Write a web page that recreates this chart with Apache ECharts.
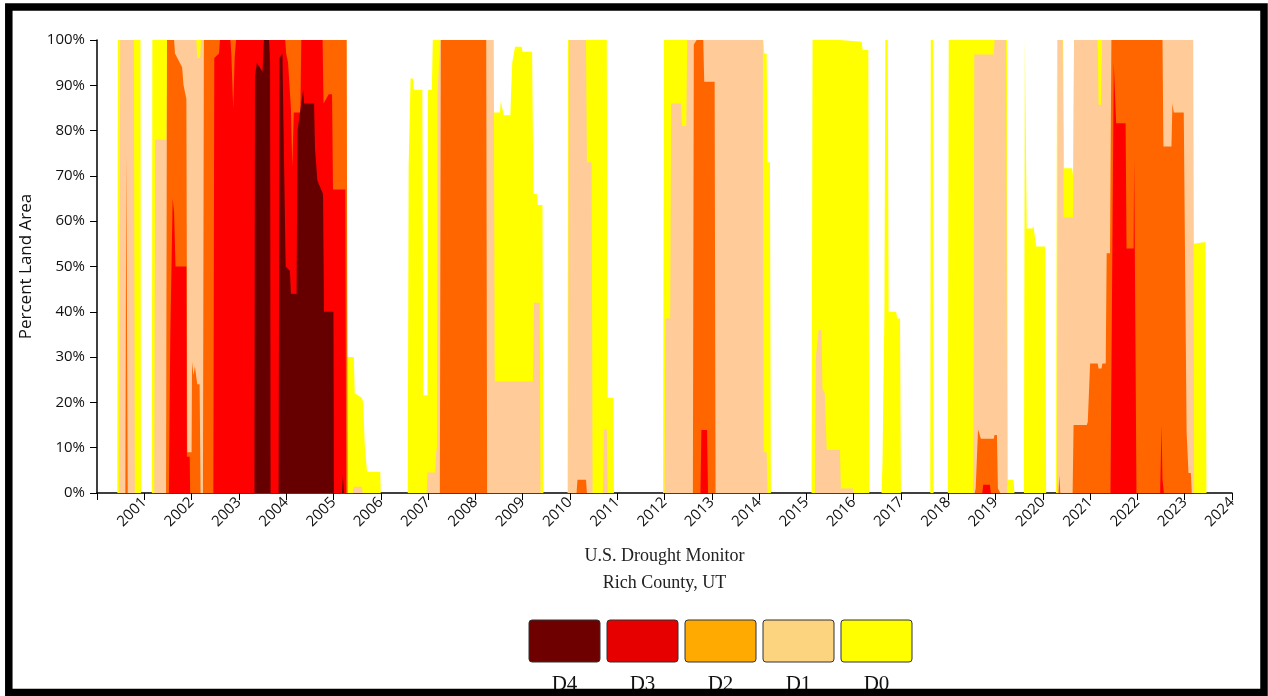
<!DOCTYPE html>
<html>
<head>
<meta charset="utf-8">
<script src="https://cdn.jsdelivr.net/npm/echarts@6/dist/echarts.min.js"></script>
<style>
html,body{margin:0;padding:0;background:#fff;}
#chart{width:1268px;height:696px;}
</style>
</head>
<body>
<div id="chart"></div>
<script>
// Time in decimal years, value = percent of land area (cumulative USDM categories)
const yearTicks = [2000, 2024];
const seriesNames = ['D0', 'D1', 'D2', 'D3', 'D4'];
const areaColors = ['#FFFF00', '#FFCC99', '#FF6600', '#FF0000', '#660000'];
const legendNames = ['D4', 'D3', 'D2', 'D1', 'D0'];
const legendColors = ['#6E0000', '#E60000', '#FFAA00', '#FCD37F', '#FFFF00'];
const titleLines = ['U.S. Drought Monitor', 'Rich County, UT'];

const d0 = [
[2000.43,0],[2000.44,100],[2000.92,100],[2000.93,0],
[2001.16,0],[2001.17,100],[2005.27,100],[2005.29,30],[2005.43,30],[2005.45,22],[2005.6,21],[2005.63,20],[2005.66,11],[2005.71,4.7],[2005.99,4.7],[2006.0,0],
[2006.57,0],[2006.59,72],[2006.63,91.5],[2006.68,91.5],[2006.7,89],[2006.88,89],[2006.9,21.6],[2006.99,21.6],[2007.0,89],[2007.08,89],[2007.1,100],[2008.36,100],[2008.38,84],[2008.52,84],[2008.54,86.6],[2008.58,86.6],[2008.6,83.4],[2008.74,83.4],[2008.78,95],[2008.84,98.5],[2008.98,98.5],[2009.0,97.4],[2009.2,97.4],[2009.23,66],[2009.3,66],[2009.32,63.6],[2009.42,63.6],[2009.44,0],
[2009.95,0],[2009.96,100],[2010.78,100],[2010.8,21],[2010.92,21],[2010.93,0],
[2011.97,0],[2011.99,100],[2014.09,100],[2014.11,97],[2014.16,97],[2014.18,73],[2014.23,73],[2014.25,0],
[2015.11,0],[2015.13,100],[2015.71,100],[2015.73,99.6],[2016.17,99.6],[2016.19,97.8],[2016.31,97.8],[2016.33,0],
[2016.59,0],[2016.61,7],[2016.65,40],[2016.67,100],[2016.72,100],[2016.74,40],[2016.9,40],[2016.92,38.5],[2016.98,38.5],[2017.0,0],
[2017.62,0],[2017.63,100],[2017.68,100],[2017.69,0],
[2017.99,0],[2018.01,100],[2019.24,100],[2019.26,2.9],[2019.38,2.9],[2019.4,0],
[2019.6,0],[2019.62,100],[2019.65,100],[2019.66,58.4],[2019.78,58.4],[2019.8,59],[2019.84,59],[2019.86,54.4],[2020.05,54.4],[2020.07,0],
[2020.28,0],[2020.3,100],[2020.43,100],[2020.45,71.7],[2020.62,71.7],[2020.64,70],[2020.66,100],[2023.17,100],[2023.19,55],[2023.44,55.4],[2023.46,0]
];

const d1 = [
[2000.47,0],[2000.49,100],[2000.78,100],[2000.8,0],
[2001.21,0],[2001.23,78],[2001.47,78],[2001.49,100],[2002.1,100],[2002.12,96],[2002.18,96],[2002.2,100],[2005.27,100],[2005.29,0],
[2005.41,0],[2005.43,1.4],[2005.6,1.4],[2005.62,0],
[2006.97,0],[2006.99,4.5],[2007.15,4.5],[2007.17,9],[2007.19,10],[2007.2,88],[2007.24,88],[2007.26,100],[2008.39,100],[2008.41,24.6],[2009.22,24.6],[2009.24,42],[2009.36,42],[2009.38,0],
[2009.96,0],[2009.98,100],[2010.34,100],[2010.36,73],[2010.46,73],[2010.48,0],[2010.7,0],[2010.72,14],[2010.78,14],[2010.8,0],
[2012.0,0],[2012.02,38.5],[2012.12,38.5],[2012.14,86],[2012.35,86],[2012.37,81],[2012.46,81],[2012.48,100],[2014.08,100],[2014.1,9],[2014.16,9],[2014.18,0],
[2015.18,0],[2015.2,30],[2015.26,36],[2015.32,36],[2015.34,23],[2015.39,22],[2015.43,9.5],[2015.71,9.5],[2015.73,1],[2015.98,1],[2016.0,0],
[2018.53,0],[2018.55,96.8],[2018.96,96.8],[2018.98,100],[2019.22,100],[2019.25,0],
[2020.3,0],[2020.32,100],[2020.42,100],[2020.44,60.8],[2020.64,60.8],[2020.66,100],[2021.16,100],[2021.18,85.7],[2021.23,85.7],[2021.25,100],[2023.18,100],[2023.2,0]
];

const d2 = [
[2000.6,0],[2000.62,75],[2000.65,0],
[2001.46,0],[2001.48,100],[2001.63,100],[2001.65,97],[2001.8,94],[2001.83,90],[2001.89,87],[2001.91,9],[2002.0,9],[2002.01,29],[2002.04,26],[2002.07,28],[2002.12,24],[2002.17,24],[2002.19,0],[2002.24,0],[2002.26,100],[2005.28,100],[2005.3,0],
[2007.25,0],[2007.27,100],[2008.23,100],[2008.25,0],
[2010.14,0],[2010.16,2.9],[2010.34,2.9],[2010.36,0],
[2012.6,0],[2012.62,99],[2012.68,100],[2012.82,100],[2012.84,90.8],[2013.06,90.8],[2013.08,0],
[2018.56,0],[2018.58,1],[2018.61,1],[2018.63,14],[2018.67,14],[2018.69,12],[2018.96,12],[2018.98,12.8],[2019.03,12.8],[2019.05,1],[2019.08,1],[2019.1,0],
[2020.33,0],[2020.35,4],[2020.37,0],
[2020.63,0],[2020.65,15],[2020.93,15],[2020.95,15.7],[2020.99,15.7],[2021.0,28.6],[2021.16,28.6],[2021.18,27.5],[2021.24,27.5],[2021.26,28.6],[2021.33,28.6],[2021.35,52.9],[2021.42,52.9],[2021.45,100],[2022.53,100],[2022.55,76.5],[2022.72,76.5],[2022.74,86],[2022.77,84],[2022.98,84],[2023.0,60],[2023.03,60],[2023.04,13.5],[2023.07,13.5],[2023.08,4.4],[2023.13,4.4],[2023.15,0]
];

const d3 = [
[2001.52,0],[2001.55,35],[2001.6,65],[2001.63,62],[2001.66,50],[2001.89,50],[2001.9,8],[2001.96,8],[2001.97,0],
[2002.46,0],[2002.48,96],[2002.58,97],[2002.6,100],[2002.82,100],[2002.84,97],[2002.88,85],[2002.91,96],[2002.94,100],[2003.98,100],[2004.0,97],[2004.04,95],[2004.1,85],[2004.13,72],[2004.16,84],[2004.3,84],[2004.32,100],[2004.77,100],[2004.79,86],[2004.9,88],[2004.97,88],[2004.99,67],[2005.25,67],[2005.27,0],
[2012.76,0],[2012.78,13.9],[2012.9,13.9],[2012.92,0],
[2018.72,0],[2018.74,1.8],[2018.88,1.8],[2018.9,0],
[2021.43,0],[2021.46,40],[2021.5,95],[2021.53,95],[2021.55,81.6],[2021.75,81.6],[2021.77,54],[2021.92,54],[2021.93,74],[2021.945,54],[2021.96,54],[2021.98,0],
[2022.48,0],[2022.51,15],[2022.53,3],[2022.56,0]
];

const d4 = [
[2003.33,0],[2003.34,92],[2003.38,95],[2003.5,93],[2003.53,100],[2003.64,100],[2003.66,95],[2003.67,0],
[2003.84,0],[2003.86,96],[2003.92,97],[2003.96,70],[2003.99,50],[2004.08,49],[2004.1,44],[2004.22,44],[2004.24,80],[2004.36,89],[2004.38,86],[2004.59,86],[2004.61,76],[2004.66,69],[2004.78,66],[2004.8,40],[2005.0,40],[2005.01,0],
[2005.18,0],[2005.2,4],[2005.22,0]
];

const seriesData = [d0, d1, d2, d3, d4];

const chart = echarts.init(document.getElementById('chart'), null, {renderer: 'canvas'});

const series = seriesNames.map((name, i) => ({
  name: name,
  type: 'line',
  data: seriesData[i],
  showSymbol: false,
  symbol: 'none',
  silent: true,
  sampling: null,
  z: 2 + i,
  lineStyle: {width: 0, opacity: 0},
  areaStyle: {color: areaColors[i], opacity: 1, origin: 'start'},
  itemStyle: {color: areaColors[i]}
}));

const graphic = [];
legendNames.forEach((n, i) => {
  const x = 529 + i * 78;
  graphic.push({
    type: 'rect', z: 50,
    shape: {x: x, y: 620, width: 71, height: 42, r: 3},
    style: {fill: legendColors[i], stroke: '#333', lineWidth: 1}
  });
  graphic.push({
    type: 'text', z: 50,
    style: {x: x + 35.5, y: 674, text: n, font: '21px "Liberation Serif", "Times New Roman", serif', fill: '#111', textAlign: 'center', textVerticalAlign: 'top'}
  });
});
titleLines.forEach((t, i) => {
  graphic.push({
    type: 'text', z: 50,
    style: {x: 664.5, y: 556 + i * 27, text: t, font: '18px "Liberation Serif", "Times New Roman", serif', fill: '#222', textAlign: 'center', textVerticalAlign: 'middle'}
  });
});
graphic.push({
  type: 'rect', z: 200,
  shape: {x: 8.8, y: 7, width: 1255.2, height: 685.6},
  style: {fill: 'none', stroke: '#000', lineWidth: 7.5}
});

chart.setOption({
  animation: false,
  backgroundColor: '#fff',
  grid: {left: 97, right: 36, top: 40, bottom: 203, containLabel: false},
  xAxis: {
    type: 'value', min: yearTicks[0], max: yearTicks[1], interval: 1,
    axisLine: {show: true, onZero: false, lineStyle: {color: '#000', width: 1.5}},
    axisTick: {show: true, length: 7, lineStyle: {color: '#000', width: 1}},
    splitLine: {show: false},
    axisLabel: {rotate: 45, margin: 7, color: '#111', fontFamily: 'Open Sans', fontSize: 15,
      formatter: v => (v === yearTicks[0] ? '' : String(v))}
  },
  yAxis: {
    type: 'value', min: 0, max: 100, interval: 10,
    name: 'Percent Land Area', nameLocation: 'middle', nameGap: 62,
    nameTextStyle: {color: '#111', fontFamily: 'Open Sans', fontSize: 17},
    axisLine: {show: true, lineStyle: {color: '#000', width: 1.5}},
    axisTick: {show: true, length: 7, lineStyle: {color: '#000', width: 1}},
    splitLine: {show: false},
    axisLabel: {formatter: '{value}%', margin: 12, color: '#111', fontFamily: 'Open Sans', fontSize: 15}
  },
  series: series,
  graphic: graphic
});
</script>
</body>
</html>
